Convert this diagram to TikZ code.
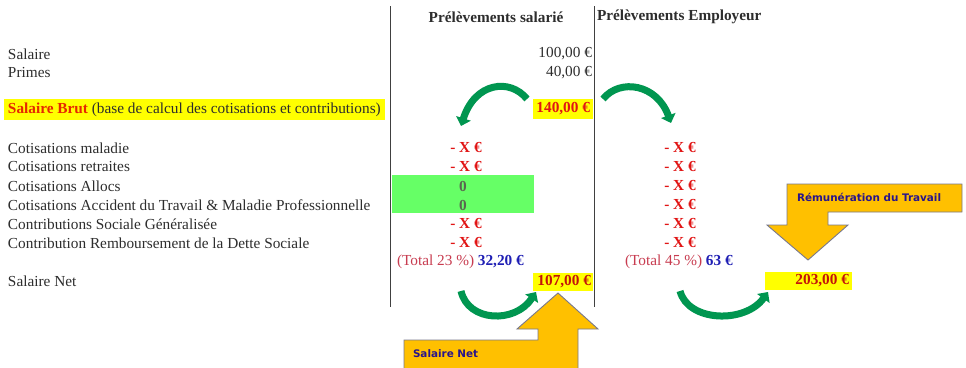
\documentclass[tikz,border=0pt]{standalone}
\usepackage{fontspec}
\setmainfont{Liberation Serif}
\newfontfamily\calloutfont{DejaVu Sans}
\usetikzlibrary{arrows.meta}
\definecolor{txt}{RGB}{45,45,45}
\definecolor{hl}{RGB}{255,255,0}
\definecolor{redv}{RGB}{225,20,20}
\definecolor{darkred}{RGB}{195,20,10}
\definecolor{totred}{RGB}{200,60,80}
\definecolor{blueamt}{RGB}{30,30,180}
\definecolor{greenbox}{RGB}{102,255,102}
\definecolor{zero}{RGB}{90,100,80}
\definecolor{arrgreen}{RGB}{0,150,80}
\definecolor{orangearr}{RGB}{255,192,0}
\definecolor{orangeedge}{RGB}{120,120,140}
\definecolor{navytext}{RGB}{40,20,140}
\definecolor{brutred}{RGB}{230,40,0}
\begin{document}
\begin{tikzpicture}[x=1pt,y=-1pt,
  every node/.style={inner sep=0pt, outer sep=0pt, font=\fontsize{15.3}{18}\selectfont, text=txt},
  lbl/.style={anchor=west},
  amt/.style={anchor=east},
  xval/.style={text=redv, font=\fontsize{15.3}{18}\selectfont\bfseries},
  zval/.style={text=zero, font=\fontsize{15.3}{18}\selectfont\bfseries},
  hlfill/.style={fill=hl},
  hlval/.style={anchor=east, font=\fontsize{15.3}{18}\selectfont\bfseries},
  vline/.style={draw=black!75, line width=0.9pt},
  garrow/.style={draw=arrgreen, line width=7pt, -{Triangle[length=8pt,width=15pt]}},
  callout/.style={fill=orangearr, draw=orangeedge, line width=0.9pt, line join=miter},
  callouttext/.style={anchor=west, text=navytext, font=\calloutfont\fontsize{10.4}{12}\selectfont\bfseries}
]
\clip (0,0) rectangle (966,367);
\fill[white] (0,0) rectangle (966,367);

% column separators
\coordinate (l1t) at (390,6);  \coordinate (l1b) at (390,307);
\coordinate (l2t) at (594,6);  \coordinate (l2b) at (594,307);
\draw[vline] (l1t) -- (l1b);
\draw[vline] (l2t) -- (l2b);

% headers
\node[font=\fontsize{15.3}{18}\selectfont\bfseries] (h1) at (496,17) {Prélèvements salarié};
\node[font=\fontsize{15.3}{18}\selectfont\bfseries, anchor=west] (h2) at (597,17) {Prélèvements Employeur};

% left labels
\node[lbl] (salaire) at (8,54) {Salaire};
\node[lbl] (primes) at (8,73) {Primes};
\node[amt] (v100) at (592,54) {100,00 €};
\node[amt] (v40) at (592,73) {40,00 €};

\node[hlfill, anchor=west, minimum width=381pt, minimum height=21pt] (brutbar) at (4,109.5) {};
\node[lbl] (brut) at (8,109.5)
  {\textcolor{brutred}{\bfseries Salaire Brut} (base de calcul des cotisations et contributions)};
\node[hlfill, minimum width=60pt, minimum height=20pt] (b140) at (563,108.5) {};
\node[hlval, text=redv] (v140) at (590,108.5) {140,00 €};

\node[lbl] (r1) at (8,148) {Cotisations maladie};
\node[lbl] (r2) at (8,167) {Cotisations retraites};
\node[lbl] (r3) at (8,186) {Cotisations Allocs};
\node[lbl] (r4) at (8,205) {Cotisations Accident du Travail \& Maladie Professionnelle};
\node[lbl] (r5) at (8,224) {Contributions Sociale Généralisée};
\node[lbl] (r6) at (8,243) {Contribution Remboursement de la Dette Sociale};
\node[lbl] (rnet) at (8,281) {Salaire Net};

% green box
\node[fill=greenbox, minimum width=142pt, minimum height=38pt] (gbox) at (463,194) {};

% employee column
\node[xval] (e1) at (466,148) {- X €};
\node[xval] (e2) at (466,167) {- X €};
\node[zval] (e3) at (463,186) {0};
\node[zval] (e4) at (463,205) {0};
\node[xval] (e5) at (466,224) {- X €};
\node[xval] (e6) at (466,243) {- X €};
\node[lbl, text=totred] (etot) at (397,262) {(Total 23 \%) \textcolor{blueamt}{\bfseries 32,20 €}};
\node[hlfill, minimum width=60pt, minimum height=18pt] (b107) at (563,281.5) {};
\node[hlval, text=darkred] (v107) at (591,281.5) {107,00 €};

% employer column
\node[xval] (p1) at (680,148) {- X €};
\node[xval] (p2) at (680,167) {- X €};
\node[xval] (p3) at (680,186) {- X €};
\node[xval] (p4) at (680,205) {- X €};
\node[xval] (p5) at (680,224) {- X €};
\node[xval] (p6) at (680,243) {- X €};
\node[lbl, text=totred] (ptot) at (625,262) {(Total 45 \%) \textcolor{blueamt}{\bfseries 63 €}};
\node[hlfill, minimum width=87pt, minimum height=18pt] (b203) at (808.5,280.5) {};
\node[hlval, text=darkred] (v203) at (849,280.5) {203,00 €};

% green curved arrows
\coordinate (a1s) at (527,99);  \coordinate (a1e) at (461,126);
\coordinate (a2s) at (603,99);  \coordinate (a2e) at (671,123);
\coordinate (a3s) at (461,291); \coordinate (a3e) at (536,292);
\coordinate (a4s) at (680,291); \coordinate (a4e) at (768,292);
\draw[garrow] (a1s) .. controls (510,78) and (475,82) .. (a1e);
\draw[garrow] (a2s) .. controls (620,78) and (657,84) .. (a2e);
\draw[garrow] (a3s) .. controls (468,322) and (515,324) .. (a3e);
\draw[garrow] (a4s) .. controls (688,322) and (745,324) .. (a4e);

% orange callout arrows
\draw[callout] (404,340) -- (538,340) -- (538,329) -- (517,329) -- (558,293) -- (598,329)
  -- (578,329) -- (578,372) -- (404,372) -- cycle;
\node[callouttext] (cnet) at (413,354) {Salaire Net};

\draw[callout] (787,184) -- (962,184) -- (962,212) -- (828,212) -- (828,225) -- (848,225)
  -- (808,260) -- (767,225) -- (787,225) -- cycle;
\node[callouttext] (crem) at (797,197) {Rémunération du Travail};
\end{tikzpicture}
\end{document}
